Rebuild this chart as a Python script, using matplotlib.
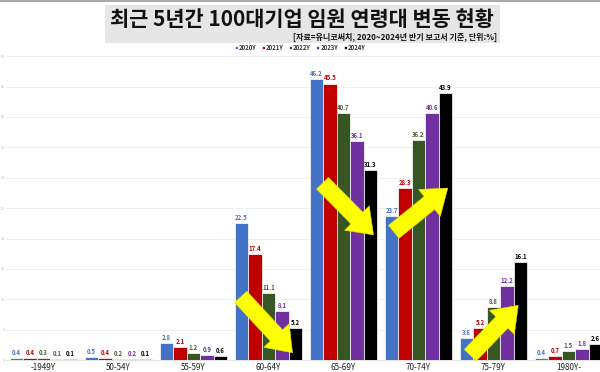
import matplotlib

matplotlib.use("Agg")
import matplotlib.pyplot as plt
from matplotlib.patches import Rectangle
from matplotlib.lines import Line2D
import numpy as np

plt.rcParams["font.family"] = ["Noto Sans CJK KR", "DejaVu Sans"]

CATEGORIES = ["-1949Y", "50-54Y", "55-59Y", "60-64Y", "65-69Y", "70-74Y", "75-79Y", "1980Y-"]
YEARS = ["2020Y", "2021Y", "2022Y", "2023Y", "2024Y"]
V2020 = [0.4, 0.5, 2.8, 22.5, 46.2, 23.7, 3.6, 0.4]
V2021 = [0.4, 0.4, 2.1, 17.4, 45.5, 28.3, 5.2, 0.7]
V2022 = [0.3, 0.2, 1.2, 11.1, 40.7, 36.2, 8.8, 1.5]
V2023 = [0.1, 0.2, 0.9, 8.1, 36.1, 40.6, 12.2, 1.8]
V2024 = [0.1, 0.1, 0.6, 5.2, 31.3, 43.9, 16.1, 2.6]
SERIES = [V2020, V2021, V2022, V2023, V2024]
COLORS = ["#4472C4", "#C00000", "#375623", "#7030A0", "#000000"]
LABEL_COLORS = ["#4472C4", "#C00000", "#4a5e3a", "#7030A0", "#000000"]

# yellow trend arrows: (tail x, tail y, head x, head y) in data units
ARROWS = [
    (2.63, 10.4, 3.32, 1.2),
    (3.72, 29.1, 4.40, 20.6),
    (4.67, 21.1, 5.39, 28.3),
    (5.69, 0.8, 6.33, 9.0),
]

fig = plt.figure(figsize=(6.0, 3.72), dpi=100, facecolor="white")
ax = fig.add_axes([0.01, 0.032, 0.99, 0.817])

x = np.arange(len(CATEGORIES))
w = 0.18
for i, (vals, col, lcol, yr) in enumerate(zip(SERIES, COLORS, LABEL_COLORS, YEARS)):
    pos = x + (i - 2) * w
    ax.bar(pos, vals, width=w, color=col, edgecolor="white", linewidth=0.5,
           label=yr, zorder=2)
    for px, v in zip(pos, vals):
        ax.annotate(f"{v:.1f}", (px, v), xytext=(0, 1.5), textcoords="offset points",
                    ha="center", va="bottom", fontsize=4.3, color=lcol,
                    fontweight="bold", zorder=3)

for tx, ty, hx, hy in ARROWS:
    ax.annotate("", xy=(hx, hy), xytext=(tx, ty),
                arrowprops=dict(arrowstyle="simple,head_length=17,head_width=25,tail_width=12",
                                mutation_scale=1, fc="#FFFF00", ec="#e0e000",
                                lw=0.4, shrinkA=0, shrinkB=0),
                zorder=4)

ax.set_xlim(-0.5, 7.42)
ax.set_ylim(0, 50)
ax.set_yticks(np.arange(0, 51, 5))
ax.tick_params(axis="y", labelsize=2.5, labelcolor="#bbbbbb", length=0, pad=1)
ax.set_xticks(x)
ax.set_xticklabels(CATEGORIES, fontsize=5.8, fontweight="medium", color="#222222")
ax.tick_params(axis="x", length=0, pad=2)
ax.grid(axis="y", color="#ececec", linewidth=0.6, zorder=0)
for s in ["top", "right", "left"]:
    ax.spines[s].set_visible(False)
ax.spines["bottom"].set_color("#dddddd")
ax.spines["bottom"].set_linewidth(0.6)

leg = ax.legend(loc="center", bbox_to_anchor=(0.5, 1 - 47 / 372), bbox_transform=fig.transFigure,
                ncol=5, fontsize=4.3, frameon=False, handlelength=0.5, handleheight=0.5,
                handletextpad=0.2, columnspacing=0.9, borderaxespad=0)
for t in leg.get_texts():
    t.set_color("#333333")
    t.set_fontweight("bold")

# title box
fig.patches.append(Rectangle((105 / 600, 1 - 43 / 372), 395 / 600, 38 / 372,
                             transform=fig.transFigure, facecolor="#e6e6e6",
                             edgecolor="none", zorder=0))
fig.text(0.503, 1 - 19 / 372, "최근 5년간 100대기업 임원 연령대 변동 현황",
         ha="center", va="center", fontsize=15, fontweight="black", color="#111111")
fig.text(497 / 600, 1 - 37 / 372, "[자료=유니코써치, 2020~2024년 반기 보고서 기준, 단위:%]",
         ha="right", va="center", fontsize=5.8, fontweight="bold", color="#111111")
fig.lines.append(Line2D([0, 1], [0.997, 0.997], transform=fig.transFigure,
                        color="#999999", linewidth=1.2))

fig.savefig("out.png", dpi=100, facecolor="white")
